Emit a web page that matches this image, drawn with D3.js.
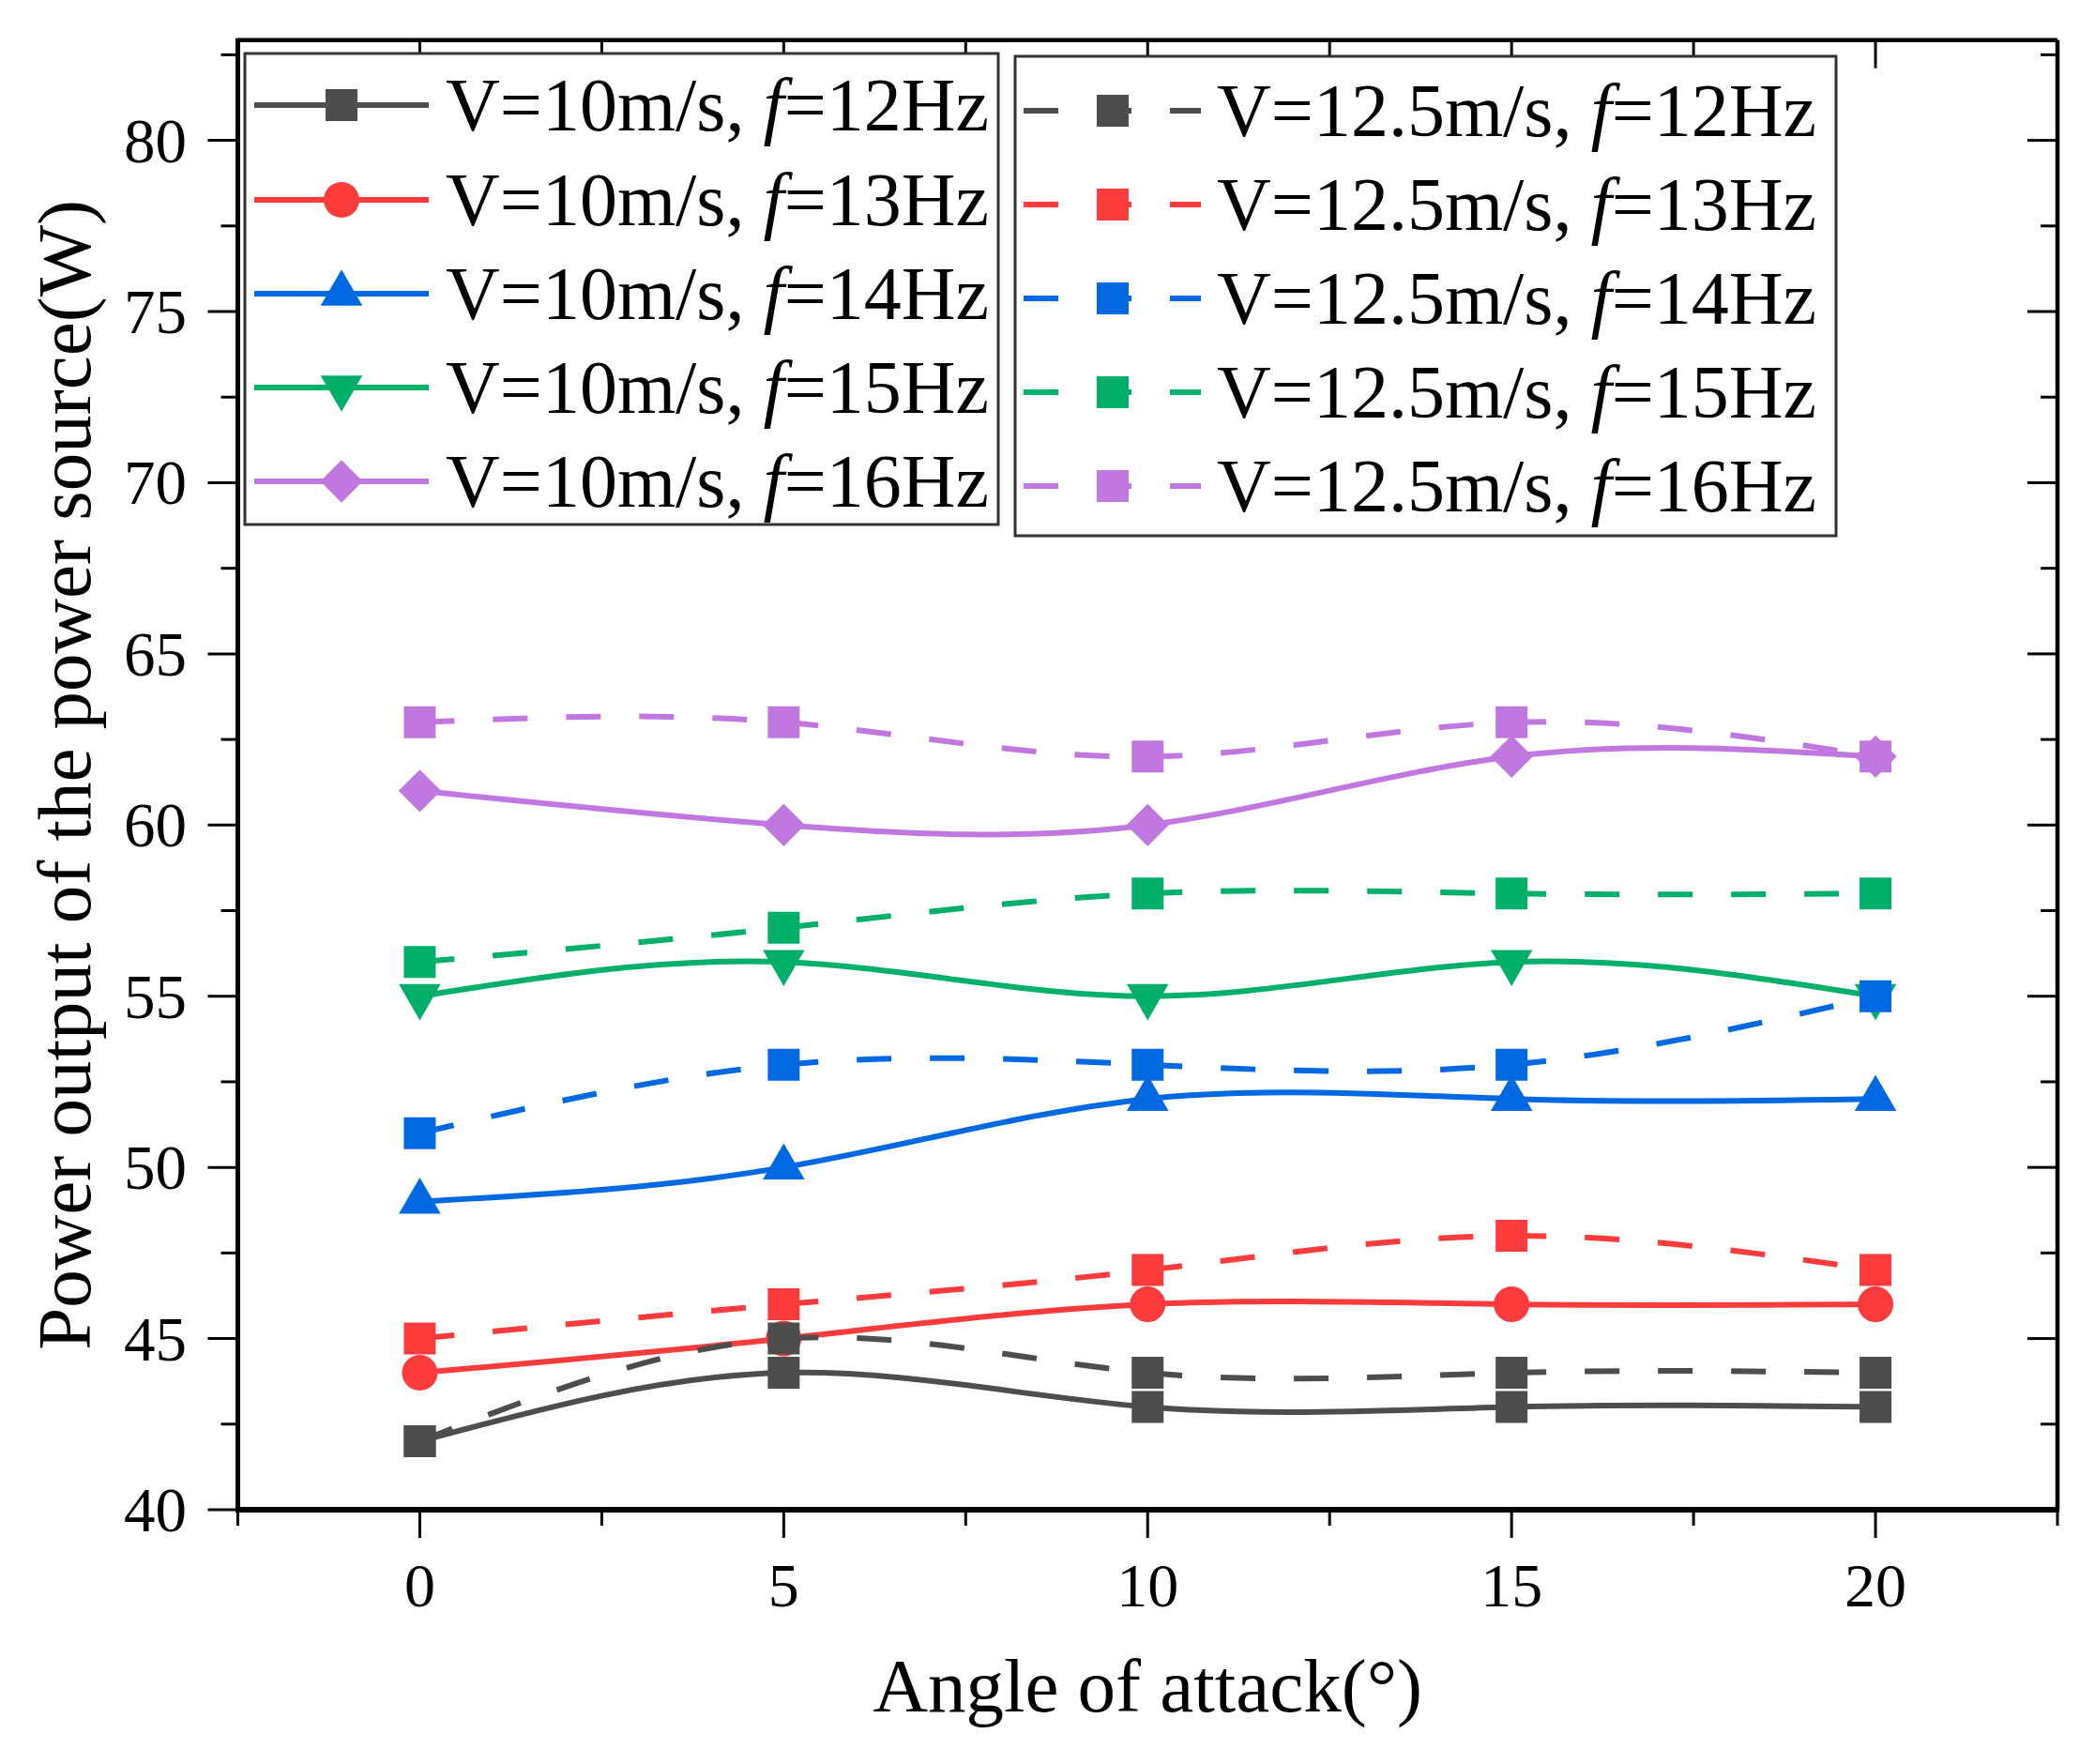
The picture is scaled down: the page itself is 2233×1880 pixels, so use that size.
<!DOCTYPE html>
<html><head><meta charset="utf-8">
<script src="https://cdn.jsdelivr.net/npm/d3@7/dist/d3.min.js"></script>
<style>body{margin:0;background:#fff}svg{display:block}</style>
</head><body>
<svg id="c" width="2233" height="1880"></svg>
<script>
const angles = [0, 5, 10, 15, 20];
const xTicks = [0, 5, 10, 15, 20];
const yTicks = [40, 45, 50, 55, 60, 65, 70, 75, 80];
const freqs = ["12", "13", "14", "15", "16"];
const colors = ["#4d4d4d", "#fc3c3c", "#0068e0", "#00b06a", "#c078e0"];
const solidShapes = ["square", "circle", "triangle", "down", "diamond"];
// V = 10 m/s
const v10f12 = [42, 44, 43, 43, 43];
const v10f13 = [44, 45, 46, 46, 46];
const v10f14 = [49, 50, 52, 52, 52];
const v10f15 = [55, 56, 55, 56, 55];
const v10f16 = [61, 60, 60, 62, 62];
// V = 12.5 m/s
const v125f12 = [42, 45, 44, 44, 44];
const v125f13 = [45, 46, 47, 48, 47];
const v125f14 = [51, 53, 53, 53, 55];
const v125f15 = [56, 57, 58, 58, 58];
const v125f16 = [63, 63, 62, 63, 62];

const series = [];
[v10f12, v10f13, v10f14, v10f15, v10f16].forEach((v, i) => series.push({speed: "10", f: freqs[i], values: v, color: colors[i], shape: solidShapes[i], dashed: false}));
[v125f12, v125f13, v125f14, v125f15, v125f16].forEach((v, i) => series.push({speed: "12.5", f: freqs[i], values: v, color: colors[i], shape: "square", dashed: true}));

const svg = d3.select("#c");
const L = 253.5, R = 2193, T = 42.7, B = 1609;
const x = d3.scaleLinear().domain([-2.5, 22.5]).range([L, R]);
const y = d3.scaleLinear().domain([40, 82.93]).range([B, T]);
const FONT = "'Liberation Serif','Times New Roman',serif";
const DASH = "37,41";
const LW = 6;

function symbolPath(shape) {
  if (shape === "square") return d3.symbol(d3.symbolSquare, 34 * 34)();
  if (shape === "circle") return d3.symbol(d3.symbolCircle, Math.PI * 19 * 19)();
  if (shape === "triangle" || shape === "down") return d3.symbol(d3.symbolTriangle, 860)();
  if (shape === "diamond") return d3.symbol(d3.symbolSquare, 32 * 32)();
}
function symbolRot(shape) {
  return shape === "down" ? 180 : shape === "diamond" ? 45 : 0;
}

const line = d3.line().x((d, i) => x(angles[i])).y(d => y(d)).curve(d3.curveNatural);

const plot = svg.append("g");
series.forEach(s => {
  const g = plot.append("g");
  const pathStr = line(s.values);
  if (s.dashed) {
    // restart dash pattern at every data point (one path per segment)
    const parts = pathStr.split("C");
    let start = parts[0].slice(1);
    for (let k = 1; k < parts.length; k++) {
      const nums = parts[k].split(",");
      g.append("path").attr("d", "M" + start + "C" + parts[k])
        .attr("fill", "none").attr("stroke", s.color).attr("stroke-width", LW)
        .attr("stroke-dasharray", DASH);
      start = nums[nums.length - 2] + "," + nums[nums.length - 1];
    }
  } else {
    g.append("path").attr("d", pathStr).attr("fill", "none")
      .attr("stroke", s.color).attr("stroke-width", LW);
  }
  g.selectAll("path.m").data(s.values).enter().append("path").attr("class", "m")
    .attr("d", symbolPath(s.shape))
    .attr("transform", (d, i) => `translate(${x(angles[i])},${y(d)}) rotate(${symbolRot(s.shape)})`)
    .attr("fill", s.color);
});

// Axes
const axG = svg.append("g");
const xMinor = d3.range(-2.5, 23, 5);
const yMinor = d3.range(42.5, 83, 5);
function ticks(vals, len, axis, side) {
  vals.forEach(v => {
    if (axis === "x") {
      const px = x(v);
      const y0 = side === "bottom" ? B : T;
      const y1 = side === "bottom" ? B + len : T + len;
      axG.append("line").attr("x1", px).attr("x2", px).attr("y1", y0).attr("y2", y1).attr("stroke", "#000").attr("stroke-width", 3);
    } else {
      const py = y(v);
      const x0 = side === "left" ? L : R;
      const x1 = side === "left" ? L - len : R - len;
      axG.append("line").attr("x1", x0).attr("x2", x1).attr("y1", py).attr("y2", py).attr("stroke", "#000").attr("stroke-width", 3);
    }
  });
}
ticks(xTicks, 30, "x", "bottom");
ticks(xMinor, 17, "x", "bottom");
ticks(xTicks, 30, "x", "top");
ticks(xMinor, 17, "x", "top");
ticks(yTicks, 32, "y", "left");
ticks(yMinor, 18, "y", "left");
ticks(yTicks, 32, "y", "right");
ticks(yMinor, 18, "y", "right");

axG.append("line").attr("x1", L).attr("x2", R).attr("y1", T).attr("y2", T).attr("stroke", "#000").attr("stroke-width", 4.5);
axG.append("line").attr("x1", R).attr("x2", R).attr("y1", T).attr("y2", B).attr("stroke", "#000").attr("stroke-width", 4.5);
axG.append("line").attr("x1", L).attr("x2", L).attr("y1", T - 2).attr("y2", B + 3).attr("stroke", "#000").attr("stroke-width", 5);
axG.append("line").attr("x1", L - 2).attr("x2", R + 2).attr("y1", B).attr("y2", B).attr("stroke", "#000").attr("stroke-width", 6);

axG.selectAll("text.xt").data(xTicks).enter().append("text")
  .attr("x", d => x(d)).attr("y", 1712).attr("text-anchor", "middle")
  .attr("font-family", FONT).attr("font-size", 66).text(d => d);
axG.selectAll("text.yt").data(yTicks).enter().append("text")
  .attr("x", 199).attr("y", d => y(d) + 23).attr("text-anchor", "end")
  .attr("font-family", FONT).attr("font-size", 67).text(d => d);

svg.append("text").attr("x", (L + R) / 2).attr("y", 1824).attr("text-anchor", "middle")
  .attr("font-family", FONT).attr("font-size", 81).text("Angle of attack(°)");
svg.append("text").attr("transform", `translate(96,${(T + B) / 2}) rotate(-90)`).attr("text-anchor", "middle")
  .attr("font-family", FONT).attr("font-size", 81).text("Power output of the power source(W)");

// Legends
function legendText(g, tx, ty, s) {
  const t = g.append("text").attr("x", tx).attr("y", ty).attr("font-family", FONT).attr("font-size", 80).attr("fill", "#000");
  t.append("tspan").text(`V=${s.speed}m/s, `);
  t.append("tspan").attr("font-style", "italic").text("f");
  t.append("tspan").text(`=${s.f}Hz`);
}
const leg1 = svg.append("g");
leg1.append("rect").attr("x", 261).attr("y", 57).attr("width", 803).attr("height", 502)
  .attr("fill", "#fff").attr("stroke", "#333").attr("stroke-width", 3);
const rows1 = [112, 213, 313, 413, 513];
series.slice(0, 5).forEach((s, i) => {
  const ry = rows1[i];
  leg1.append("line").attr("x1", 271).attr("x2", 457).attr("y1", ry).attr("y2", ry).attr("stroke", s.color).attr("stroke-width", LW);
  leg1.append("path").attr("d", symbolPath(s.shape)).attr("transform", `translate(364,${ry}) rotate(${symbolRot(s.shape)})`).attr("fill", s.color);
  legendText(leg1, 475, ry + 27, s);
});
const leg2 = svg.append("g");
leg2.append("rect").attr("x", 1082).attr("y", 60).attr("width", 875).attr("height", 511)
  .attr("fill", "#fff").attr("stroke", "#333").attr("stroke-width", 3);
const rows2 = [118, 218, 318, 418, 518];
series.slice(5).forEach((s, i) => {
  const ry = rows2[i];
  leg2.append("line").attr("x1", 1091).attr("x2", 1280).attr("y1", ry).attr("y2", ry).attr("stroke", s.color).attr("stroke-width", LW).attr("stroke-dasharray", DASH);
  leg2.append("path").attr("d", symbolPath(s.shape)).attr("transform", `translate(1186,${ry})`).attr("fill", s.color);
  legendText(leg2, 1297, ry + 27, s);
});
</script>
</body></html>
